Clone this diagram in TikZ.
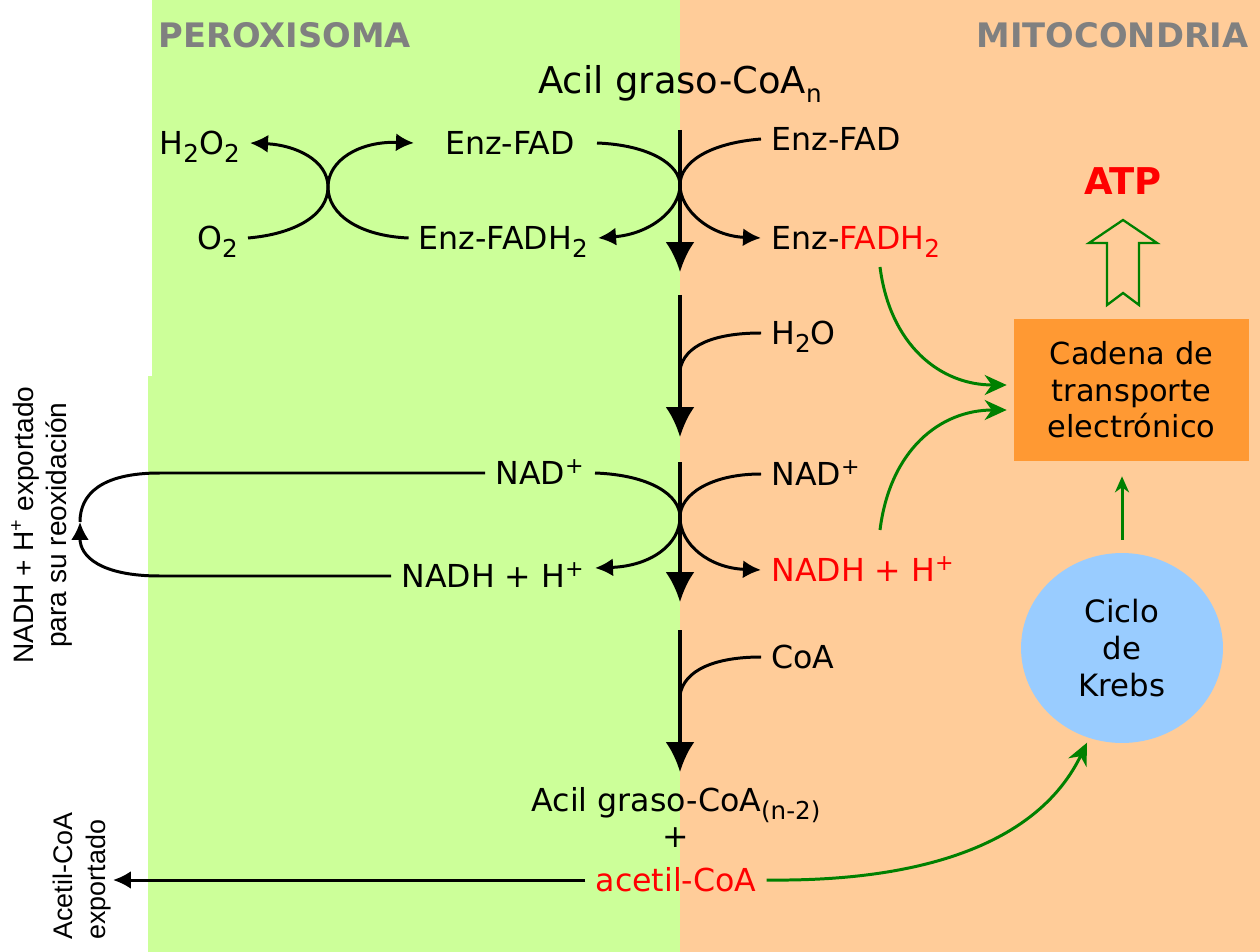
\documentclass[tikz,border=0pt]{standalone}
\usepackage{fontspec}
\setmainfont{DejaVu Sans}
\newfontfamily\arialfont{Liberation Sans}
\usetikzlibrary{arrows.meta,shapes.geometric}

\definecolor{peroxbg}{HTML}{CCFF99}
\definecolor{mitobg}{HTML}{FFCC99}
\definecolor{ctebox}{HTML}{FF9933}
\definecolor{krebsbg}{HTML}{99CCFF}
\definecolor{arrgreen}{HTML}{008000}
\definecolor{headgray}{HTML}{808080}

\newcommand\lowidx[1]{\raisebox{-0.45ex}{\fontsize{14}{16}\selectfont #1}}

\tikzset{
  lbl/.style={inner xsep=0.2cm, inner ysep=0pt, text height=13pt, text depth=0pt,
    font=\fontsize{18}{22}\selectfont},
  head/.style={text=headgray, inner sep=0pt, font=\bfseries\fontsize{19.2}{23}\selectfont},
  curv/.style={line width=1.7pt},
  curvarr/.style={curv, -{Latex[length=0.36cm,width=0.36cm]}},
  mainarr/.style={line width=2.3pt, -{Latex[length=0.6cm,width=0.58cm]}},
  garr/.style={arrgreen, line width=1.7pt, -{Stealth[length=0.44cm,width=0.4cm,inset=0.14cm]}},
}

\begin{document}
\begin{tikzpicture}[x=0.02cm, y=-0.02cm]
\useasboundingbox (0,0) rectangle (1260,952);
% compartments
\fill[white] (0,0) rectangle (1260,952);
\fill[peroxbg] (152,0) rectangle (680,376);
\fill[peroxbg] (148,376) rectangle (680,952);
\fill[mitobg] (680,0) rectangle (1260,952);

\node[head, anchor=west] (perox) at (158,35) {PEROXISOMA};
\node[head, anchor=east] (mito) at (1249,35) {MITOCONDRIA};
\node[lbl, text height=15pt, font=\fontsize{21}{25}\selectfont] (acil) at (680,80) {Acil graso-CoA\lowidx{n}};

% main pathway
\foreach \i/\ya/\yb in {1/130/272, 2/295/437, 3/462/602, 4/630/772} {
  \coordinate (top\i) at (680,\ya);
  \coordinate (bot\i) at (680,\yb);
  \draw[mainarr] (top\i) -- (bot\i);
}
\coordinate (jx) at (328,187);
\coordinate (j1) at (680,185);
\coordinate (j2) at (680,370);
\coordinate (j3) at (680,517);
\coordinate (j4) at (680,695);

% step 1: oxidation
\node[lbl, anchor=east] (h2o2) at (250,143) {H\lowidx{2}O\lowidx{2}};
\node[lbl, anchor=east] (o2) at (248,238) {O\lowidx{2}};
\node[lbl, anchor=east] (efadL) at (585,143) {Enz-FAD};
\node[lbl, anchor=east] (efadhL) at (598,238) {Enz-FADH\lowidx{2}};
\node[lbl, anchor=west] (efadR) at (761,139) {Enz-FAD};
\node[lbl, anchor=west] (efadhR) at (761,238) {Enz-\textcolor{red}{FADH\lowidx{2}}};

\draw[curvarr] (o2.east) .. controls (295,234) and (328,215) .. (jx)
  .. controls (328,160) and (295,145) .. (h2o2.east);
\draw[curvarr] (efadhL.west) .. controls (360,236) and (328,215) .. (jx)
  .. controls (328,160) and (360,141) .. ([xshift=-0.42cm]efadL.west);
\draw[curvarr] ([xshift=0.24cm]efadL.east) .. controls (650,145) and (680,165) .. (j1)
  .. controls (680,210) and (650,234) .. (efadhL.east);
\draw[curvarr] (efadR.west) .. controls (710,143) and (680,162) .. (j1)
  .. controls (680,210) and (710,236) .. (efadhR.west);

% step 2: hydration
\node[lbl, anchor=west] (h2o) at (761,333) {H\lowidx{2}O};
\draw[curv] (h2o.west) .. controls (715,333) and (684,345) .. (j2);

% step 3: NAD
\node[lbl, anchor=east] (nadL) at (595,473) {NAD\textsuperscript{+}};
\node[lbl, anchor=east] (nadhL) at (595,576) {NADH + H\textsuperscript{+}};
\node[lbl, anchor=west] (nadR) at (761,474) {NAD\textsuperscript{+}};
\node[lbl, anchor=west, text=red] (nadhR) at (761,570) {NADH + H\textsuperscript{+}};

\draw[curvarr] (nadL.east) .. controls (650,475) and (680,495) .. (j3)
  .. controls (680,545) and (650,566) .. ([yshift=0.16cm]nadhL.east);
\draw[curvarr] (nadR.west) .. controls (710,474) and (680,495) .. (j3)
  .. controls (680,545) and (710,568) .. (nadhR.west);

\coordinate (loopL) at (80,522);
\draw[curvarr] (nadhL.west) -- (160,576) .. controls (100,576) and (80,556) .. (loopL);
\draw[curv] (loopL) .. controls (80,495) and (100,473) .. (160,473) -- (nadL.west);
\node[rotate=90, align=center, font=\arialfont\fontsize{16}{19}\selectfont] (nadexp)
  at (42,525) {NADH + H\textsuperscript{+} exportado\\para su reoxidación};

% step 4: thiolysis
\node[lbl, anchor=west] (coa) at (761,657) {CoA};
\draw[curv] (coa.west) .. controls (715,657) and (684,670) .. (j4);

\node[lbl] (acil2) at (676,800) {Acil graso-CoA\lowidx{(n-2)}};
\node[lbl] (plus) at (676,836) {+};
\node[lbl, text=red] (acetil) at (676,880) {acetil-CoA};

\coordinate (acout) at (113,880);
\draw[curvarr] (acetil.west) -- (acout);
\node[rotate=90, align=left, font=\arialfont\fontsize{15.3}{18.8}\selectfont] (acexp)
  at (82,876) {Acetil-CoA\\exportado};

% mitochondrial side
\node[fill=ctebox, minimum width=4.7cm, minimum height=2.84cm, align=center,
  font=\fontsize{17.3}{20.8}\selectfont] (cte) at (1131.5,390) {Cadena de\\transporte\\electrónico};
\node[ellipse, fill=krebsbg, minimum width=4.04cm, minimum height=3.8cm, align=center,
  font=\fontsize{17.5}{21.3}\selectfont] (krebs) at (1122,648) {Ciclo\\de\\Krebs};
\node[text=red, font=\bfseries\fontsize{21}{25}\selectfont] (atp) at (1123,181) {ATP};

\draw[arrgreen, line width=1.3pt] (1123,220) -- (1157,243) -- (1139,243) -- (1139,305)
  -- (1123,293) -- (1107,305) -- (1107,243) -- (1089,243) -- cycle;

\coordinate (fadout) at (880,267);
\coordinate (nadout) at (880,530);
\draw[garr, shorten >=0.14cm] (fadout) .. controls (890,345) and (940,385) .. ([yshift=0.1cm]cte.west);
\draw[garr, shorten >=0.14cm] (nadout) .. controls (890,450) and (940,410) .. ([yshift=-0.4cm]cte.west);
\draw[garr, shorten >=0.1cm] (acetil.east) .. controls (930,882) and (1040,840) .. (krebs.250);
\draw[arrgreen, line width=1.7pt, -{Stealth[length=0.32cm,width=0.28cm,inset=0.1cm]},
  shorten <=0.26cm, shorten >=0.3cm] (krebs.north) -- (krebs.north |- cte.south);
\end{tikzpicture}
\end{document}
